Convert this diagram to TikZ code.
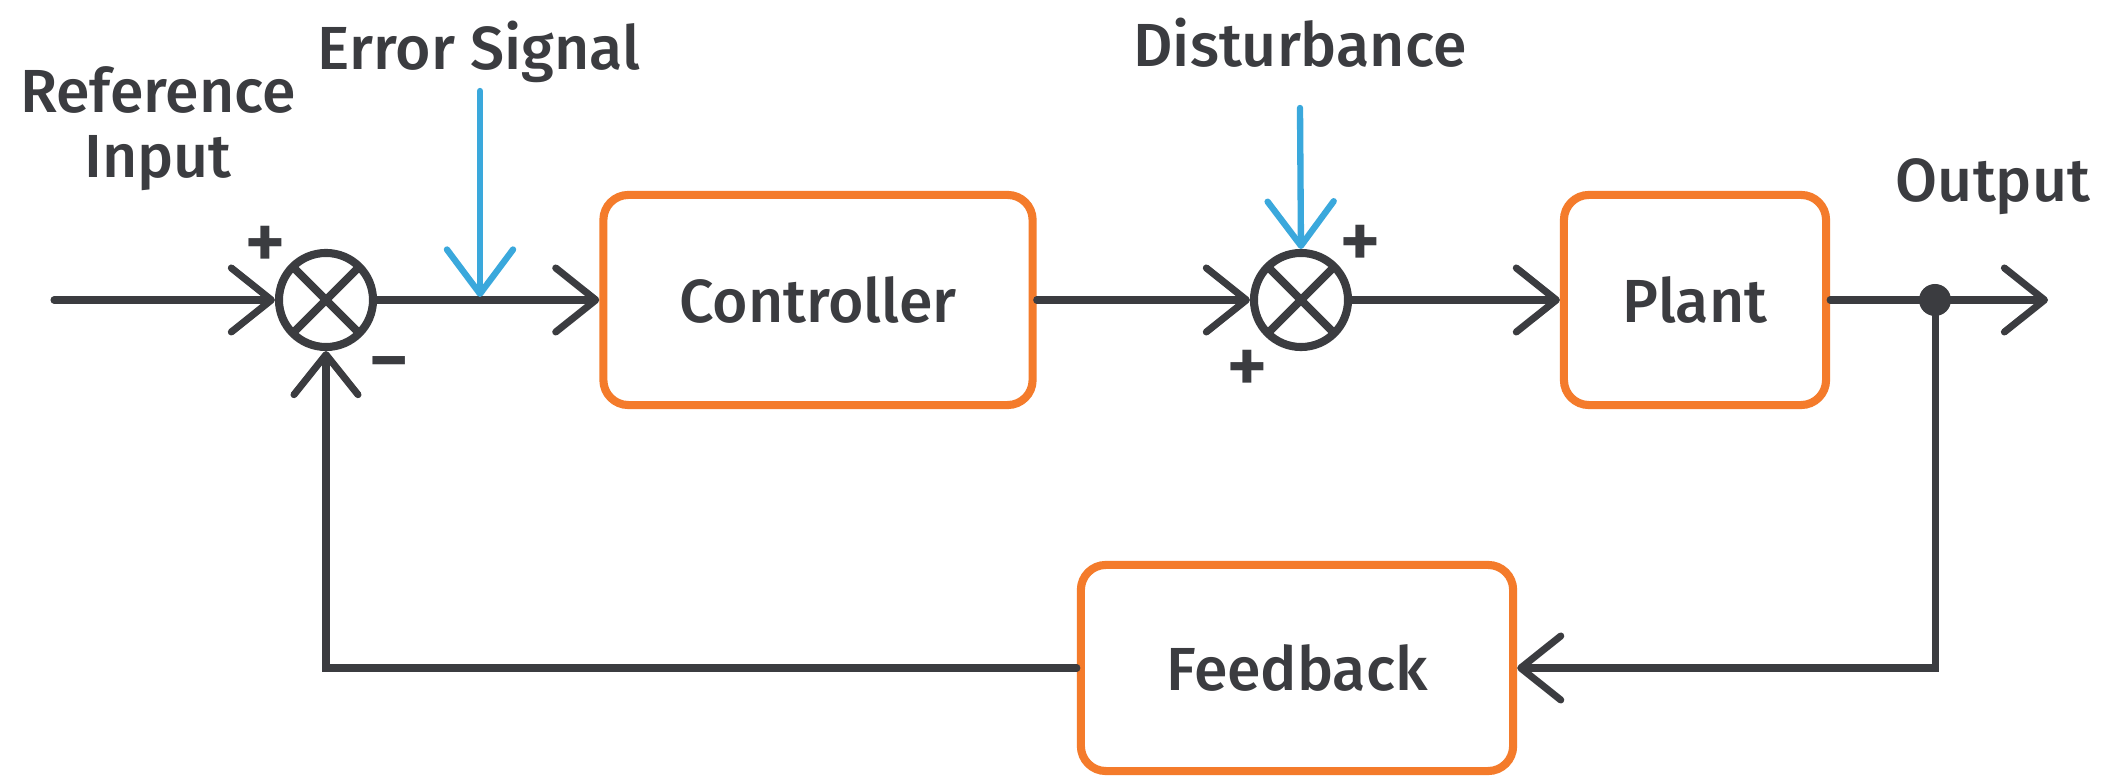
\documentclass[tikz,border=0pt]{standalone}
\usepackage{fontspec}
\setmainfont{Fira Sans Medium}
\usetikzlibrary{arrows.meta}
\definecolor{ink}{HTML}{3B3C40}
\definecolor{boxorange}{HTML}{F47B2B}
\definecolor{sigblue}{HTML}{3AA8DC}

\begin{document}
\begin{tikzpicture}[x=0.01cm,y=-0.01cm,
  txt/.style={text=ink,font=\fontsize{17.3}{18.5}\selectfont,inner sep=0pt},
  block/.style={draw=boxorange,line width=2.3pt,rounded corners=0.25cm,fill=white,
    text=ink,font=\fontsize{17.3}{19}\selectfont,minimum height=2.10cm},
  sumnode/.style={circle,draw=ink,line width=2.3pt,minimum size=0.94cm,inner sep=0pt},
  flow/.style={draw=ink,line width=2pt,line cap=round,
    -{Straight Barb[length=11.4pt,width=18.2pt,round]}},
  sig/.style={draw=sigblue,line width=1.8pt,line cap=round,
    -{Straight Barb[length=12.6pt,width=18.8pt,round]}},
  sgn/.style={text=ink,font=\fontsize{23}{26}\selectfont,inner sep=0pt}]

\useasboundingbox[fill=white] (0,0) rectangle (2102,777);

% summing junctions
\node[sumnode] (s1) at (326,300) {};
\node[sumnode] (s2) at (1301,300) {};
\foreach \s in {s1,s2}{
  \draw[draw=ink,line width=2.3pt] (\s.center) +(45:47) -- +(225:47)
                                   (\s.center) +(135:47) -- +(315:47);
}

% blocks
\node[block,minimum width=4.29cm] (ctrl) at (818,300) {Controller};
\node[block,minimum width=2.62cm] (plant) at (1695,300) {Plant};
\node[block,minimum width=4.32cm,minimum height=2.06cm] (fb) at (1297,668) {Feedback};

% branch point on the output
\coordinate (dot) at (1935,300);

% free ends
\coordinate (inA) at (54,300);
\coordinate (outB) at (2048,300);
\coordinate (errTop) at (480,91);
\coordinate (errTip) at (480,297);
\coordinate (disTop) at (1300,108);

% text labels (base anchor = baseline of the last line)
\node[txt,anchor=base,align=center] (refin) at (158,178) {Reference\\Input};
\node[txt,anchor=base] (errlbl) at (479,70) {Error Signal};
\node[txt,anchor=base] (dislbl) at (1300,67) {Disturbance};
\node[txt,anchor=base] (outlbl) at (1993,202) {Output};

% signs at the junctions
\node[sgn] (p1) at (265,248) {+};
\node[sgn] (m1) at (389,372) {−};
\node[sgn] (p2) at (1360,247) {+};
\node[sgn] (p3) at (1247,372) {+};

% forward path
\draw[flow] (inA) -- (s1.west);
\draw[flow] (s1.east) -- (ctrl.west);
\draw[flow] (ctrl.east) -- (s2.west);
\draw[flow] (s2.east) -- (plant.west);
\draw[flow] (plant.east) -- (outB);

% feedback path
\draw[flow] (dot) |- (fb.east);
\draw[flow] (fb.west) -| (s1.south);
\node[circle,fill=ink,minimum size=0.32cm,inner sep=0pt] (branch) at (dot) {};

% injected signals
\draw[sig] (errTop) -- (errTip);
\draw[sig] (disTop) -- (s2.north);
\end{tikzpicture}
\end{document}
